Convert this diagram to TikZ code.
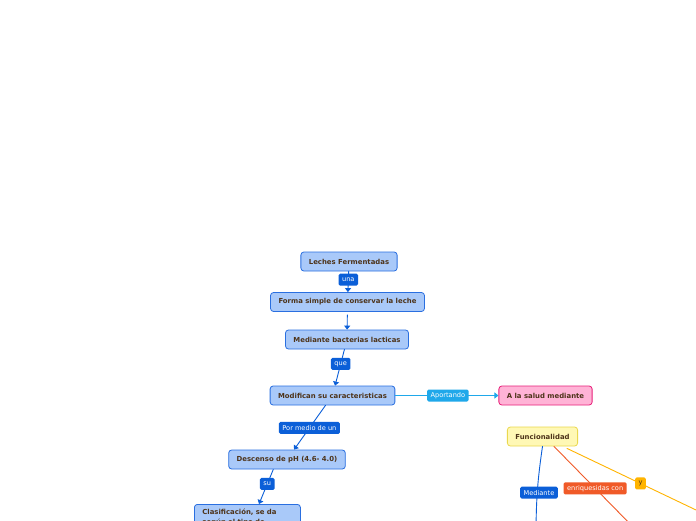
\documentclass[tikz,border=0pt]{standalone}
\usepackage{fontspec}
\setmainfont{DejaVu Sans}
\usetikzlibrary{arrows}
\usetikzlibrary{arrows.meta}
\definecolor{azulclaro}{HTML}{A9C9F9}
\definecolor{bordeazul}{HTML}{2A6FE0}
\definecolor{azuloscuro}{HTML}{0B5FD8}
\definecolor{celeste}{HTML}{1FA8EA}
\definecolor{rosa}{HTML}{FFB3D6}
\definecolor{magenta}{HTML}{E8207A}
\definecolor{amarillo}{HTML}{FFF8B5}
\definecolor{bordeamarillo}{HTML}{EAD84E}
\definecolor{naranja}{HTML}{F05A28}
\definecolor{ambar}{HTML}{FFB400}
\definecolor{cafe}{HTML}{4D3319}

\begin{document}
\begin{tikzpicture}[line cap=round,line join=round,x=1pt,y=-1pt,
  caja/.style={draw=bordeazul,fill=azulclaro,rounded corners=3pt,line width=0.8pt,minimum height=19pt,inner xsep=8pt,font=\fontsize{6.9}{10}\selectfont\bfseries,text=cafe},
  etiq/.style={fill=azuloscuro,rounded corners=1.5pt,text=white,font=\fontsize{6.6}{7}\selectfont,inner xsep=3.5pt,inner ysep=0pt,minimum height=12pt},
  flecha/.style={-{Triangle[length=4pt,width=6pt]},color=azuloscuro,line width=0.9pt}]
\path[use as bounding box,fill=white] (0,0) rectangle (696,520);
% cadena principal
\node[caja] (leches) at (349,261.5) {Leches Fermentadas};
\node[caja] (forma) at (347.5,302) {Forma simple de conservar la leche};
\node[caja] (bacterias) at (347,339.5) {Mediante bacterias lacticas};
\node[caja] (modifican) at (332.5,395.5) {Modifican su caracteristicas};
\node[caja] (descenso) at (287,459.5) {Descenso de pH (4.6- 4.0)};
\node[caja,anchor=north west,align=left,text width=90pt,inner ysep=5pt] (clasif) at (194,504) {Clasificación, se da\\según el tipo de};
\node[caja,fill=rosa,draw=magenta] (salud) at (545.5,395.5) {A la salud mediante};
\node[caja,fill=amarillo,draw=bordeamarillo] (funcional) at (542.5,436.5) {Funcionalidad};
\coordinate (finazul) at (536,532);
\coordinate (finrojo) at (638,532);
\coordinate (finambar) at (717,520);
% conectores
\draw[flecha] (leches) -- (forma) node[etiq,pos=0.4] {una};
\draw[flecha,shorten <=3pt] (forma) -- (bacterias);
\draw[flecha] (bacterias) -- (modifican) node[etiq,pos=0.4] {que};
\draw[flecha] (modifican) -- (descenso) node[etiq,pos=0.51] {Por medio de un};
\draw[flecha] ([xshift=45pt]descenso.south west) -- ([xshift=65pt]clasif.north west) node[etiq,pos=0.42] {su};
\draw[flecha,color=celeste] (modifican) -- (salud) node[etiq,fill=celeste,pos=0.51] {Aportando};
\draw[color=azuloscuro,line width=0.9pt] (funcional.south) to[bend right=4] (finazul);
\path (funcional.south) -- (finazul) node[etiq,pos=0.54] {Mediante};
\draw[color=naranja,line width=0.9pt] ([xshift=47pt]funcional.south west) -- (finrojo) node[etiq,fill=naranja,pos=0.49] {enriquesidas con};
\draw[color=ambar,line width=0.9pt] ([xshift=60pt,yshift=-2pt]funcional.south west) -- (finambar) node[etiq,fill=ambar,text=cafe,pos=0.49] {y};
\end{tikzpicture}
\end{document}
